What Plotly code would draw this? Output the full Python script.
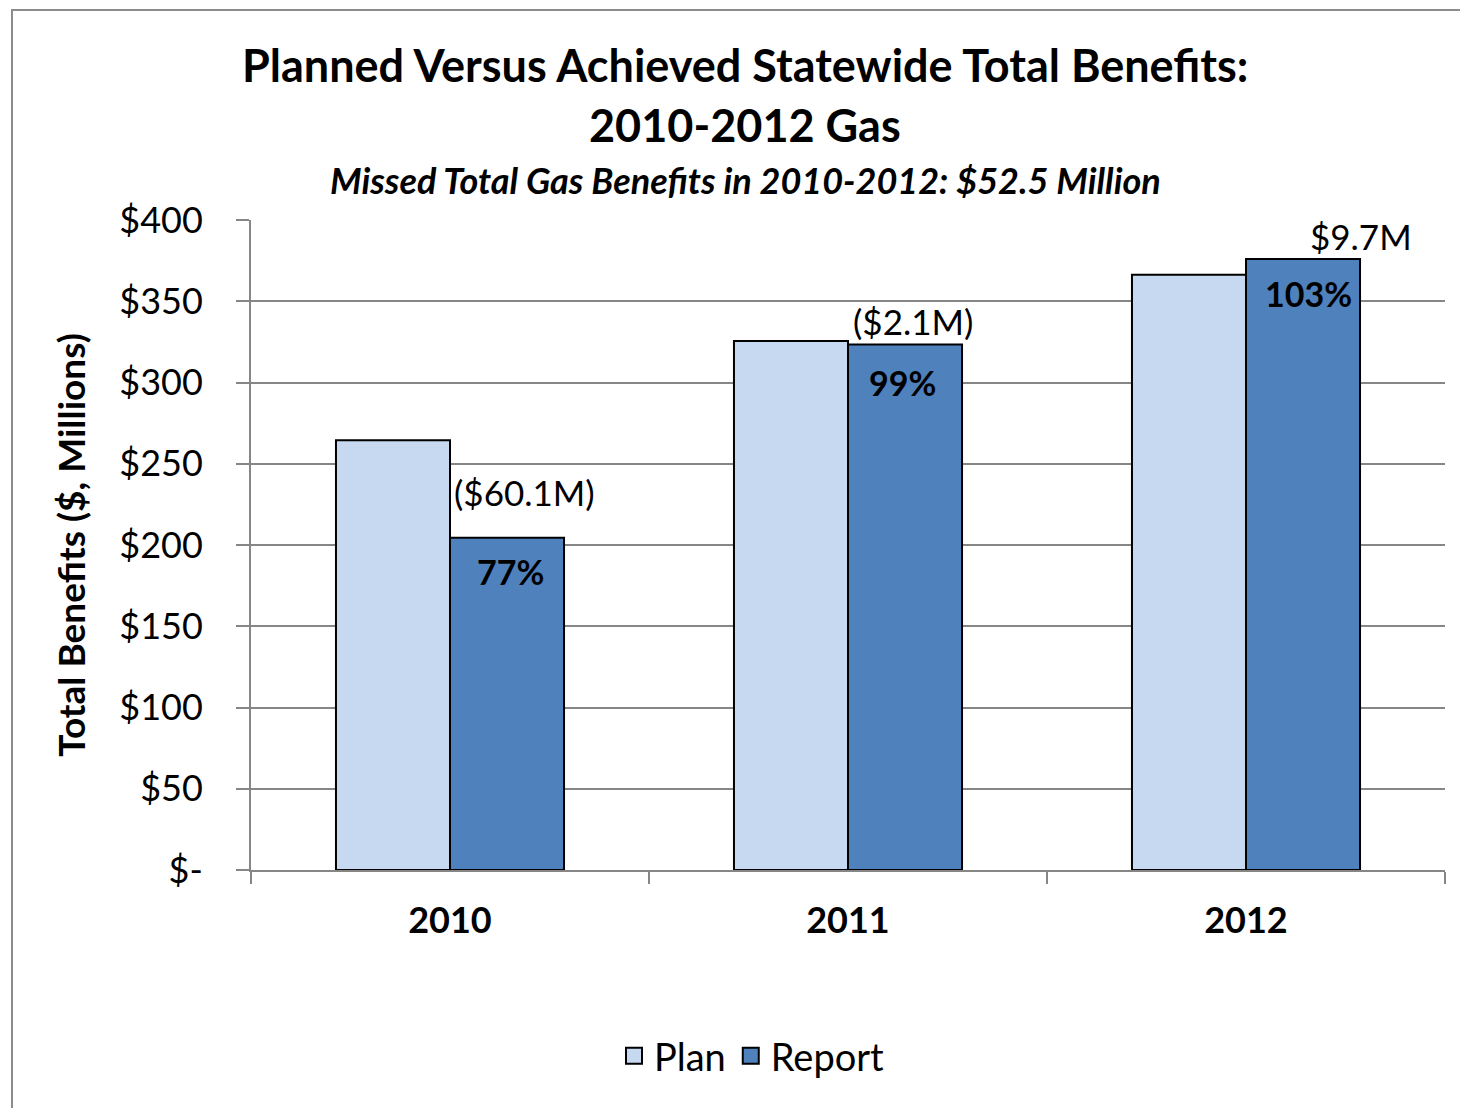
import plotly.graph_objects as go

years = ["2010", "2011", "2012"]
plan = [264.5, 325.5, 366.3]
report = [204.4, 323.4, 376.0]
pct_labels = ["77%", "99%", "103%"]
diff_labels = ["($60.1M)", "($2.1M)", "$9.7M"]
y_ticks = [0, 50, 100, 150, 200, 250, 300, 350, 400]
y_tick_text = ["$-", "$50", "$100", "$150", "$200", "$250", "$300", "$350", "$400"]

PLAN_COLOR = "#C6D9F1"
REPORT_COLOR = "#4F81BD"
FONT = "Lato"

OFF = 8  # page body margin
W, H = 1468 - OFF, 1108 - OFF
L, R, T, B = 251 - OFF, 23, 220 - OFF, 238
PW, PH = W - L - R, H - T - B


def px_x(px):
    return (px - OFF - L) / PW


def px_y(py):
    return (H - B - (py - OFF)) / PH


fig = go.Figure()
fig.add_trace(go.Bar(
    x=years, y=plan, name="Plan", showlegend=False, legendgroup="plan",
    marker=dict(color=PLAN_COLOR, line=dict(color="black", width=2)),
))
fig.add_trace(go.Bar(
    x=years, y=report, name="Report", showlegend=False, legendgroup="report",
    marker=dict(color=REPORT_COLOR, line=dict(color="black", width=2)),
))
# legend entries with larger square swatches
for name, color in [("Plan", PLAN_COLOR), ("Report", REPORT_COLOR)]:
    fig.add_trace(go.Scatter(
        x=[None], y=[None], mode="markers", name=name,
        legendgroup=name.lower(),
        marker=dict(symbol="square", size=22, color=color,
                    line=dict(color="black", width=2)),
    ))

# percentage labels inside the Report bars
pct_xshift = [60, 54, 62]
pct_yshift = [-34, -38, -34]
for i in range(len(years)):
    fig.add_annotation(
        x=i, y=report[i], xref="x", yref="y",
        text="<b>" + pct_labels[i] + "</b>", showarrow=False,
        xshift=pct_xshift[i], yshift=pct_yshift[i],
        font=dict(family=FONT, size=34, color="black"),
        xanchor="center", yanchor="middle",
    )

# difference labels above the Report bars
yshifts = [46, 23, 23]
xshifts = [74, 65, 115]
for i in range(len(years)):
    fig.add_annotation(
        x=i, y=report[i], xref="x", yref="y",
        text=diff_labels[i], showarrow=False,
        xshift=xshifts[i], yshift=yshifts[i],
        font=dict(family=FONT, size=35, color="black"),
        xanchor="center", yanchor="middle",
    )

# Titles
fig.add_annotation(x=px_x(745), y=px_y(65), xref="paper", yref="paper",
                   text="<b>Planned Versus Achieved Statewide Total Benefits:</b>",
                   showarrow=False, font=dict(family=FONT, size=45, color="black"),
                   xanchor="center", yanchor="middle")
fig.add_annotation(x=px_x(745), y=px_y(125), xref="paper", yref="paper",
                   text="<b>2010-2012 Gas</b>",
                   showarrow=False, font=dict(family=FONT, size=45, color="black"),
                   xanchor="center", yanchor="middle")
fig.add_annotation(x=px_x(745), y=px_y(180), xref="paper", yref="paper",
                   text="<b><i>Missed Total Gas Benefits in 2010-2012: $52.5 Million</i></b>",
                   showarrow=False, font=dict(family=FONT, size=36, color="black"),
                   xanchor="center", yanchor="middle")

# outer border
fig.add_shape(type="rect", xref="paper", yref="paper",
              x0=px_x(12), x1=px_x(1480), y0=px_y(1120), y1=px_y(10),
              line=dict(color="#8C8C8C", width=2), fillcolor="rgba(0,0,0,0)",
              layer="below")

fig.update_layout(
    width=W, height=H,
    margin=dict(l=L, r=R, t=T, b=B, autoexpand=False),
    paper_bgcolor="white", plot_bgcolor="white",
    barmode="group", bargap=0.427, bargroupgap=0,
    font=dict(family=FONT, color="black"),
    showlegend=True,
    legend=dict(orientation="h", x=px_x(752), y=px_y(1056), xanchor="center",
                yanchor="middle", font=dict(family=FONT, size=38),
                traceorder="normal", itemsizing="trace"),
    xaxis=dict(
        type="category", range=[-0.5, 2.5], showline=True, linecolor="#868686",
        linewidth=2, ticks="outside", tickson="boundaries", ticklen=12,
        tickcolor="#868686", tickwidth=2, showgrid=False, tickangle=0,
        ticklabelstandoff=18,
        tickfont=dict(family=FONT, size=36, color="black", weight="bold"),
    ),
    yaxis=dict(
        range=[0, 400], tickvals=y_ticks, ticktext=y_tick_text,
        showgrid=True, gridcolor="#868686", gridwidth=2,
        showline=True, linecolor="#868686", linewidth=2,
        ticks="outside", ticklen=13, tickcolor="#868686", tickwidth=2,
        ticklabelstandoff=26,
        tickfont=dict(family=FONT, size=36, color="black"),
        zeroline=False,
        title=dict(text="<b>Total Benefits ($, Millions)</b>",
                   font=dict(family=FONT, size=37, color="black"), standoff=22),
    ),
)

fig.write_html("out.html")
